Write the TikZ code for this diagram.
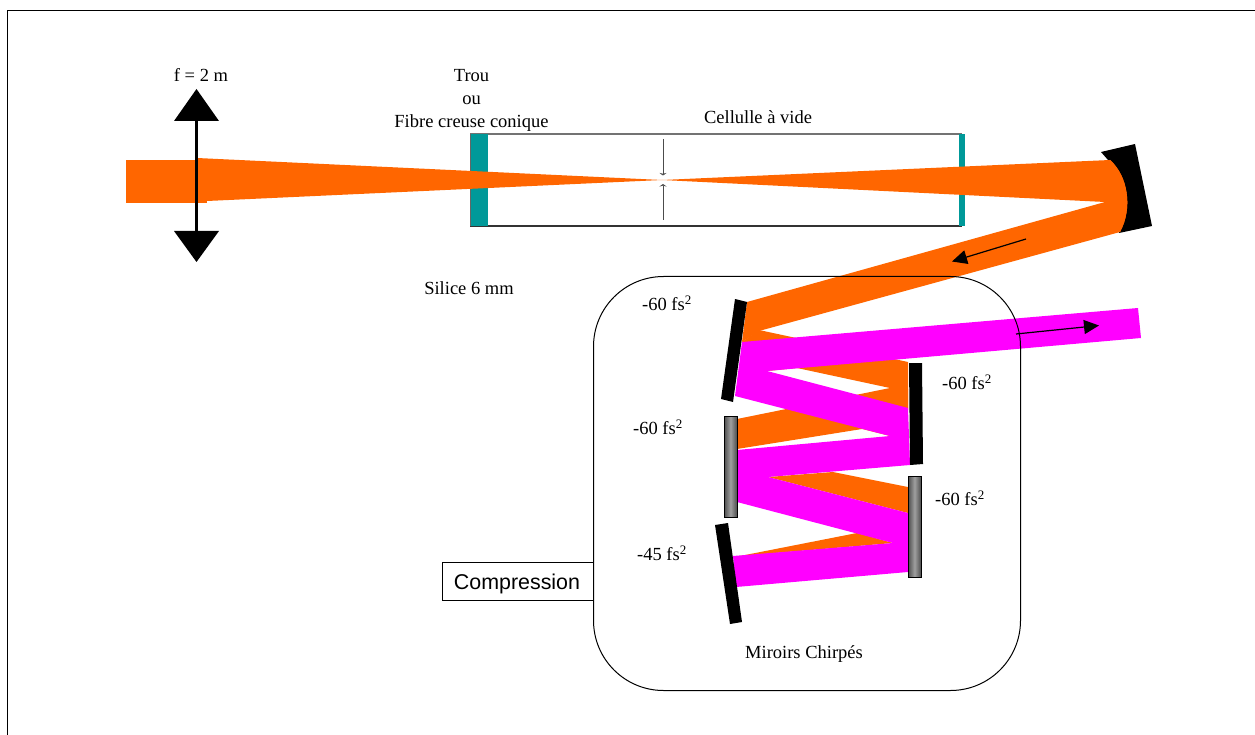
\documentclass[tikz,border=0pt]{standalone}
\usepackage{fontspec}
\setmainfont{Liberation Serif}
\newfontfamily\arialf{Liberation Sans}
\usetikzlibrary{arrows.meta}
\definecolor{beamo}{HTML}{FF6600}
\definecolor{beamm}{HTML}{FF00FF}
\definecolor{teal}{HTML}{009999}
\tikzset{
  x=1pt,y=-1pt,
  orangebeam/.style={fill=beamo,draw=none},
  magentabeam/.style={fill=beamm,draw=none},
  blackmirror/.style={fill=black,draw=none},
  greymirror/.style={left color=gray!60!black,right color=gray!60!black,middle color=gray!75,draw=black,line width=.9pt},
  window/.style={fill=teal,draw=none},
  lbl/.style={font=\fontsize{18.5}{23}\selectfont,inner sep=0pt,align=center},
  dirarrow/.style={line width=1.2pt,-{Triangle[length=15pt,width=14pt]}},
  tinyarrow/.style={line width=1pt,draw=black!70,-{Stealth[length=2.5pt,width=7pt]}},
}
\begin{document}
\begin{tikzpicture}
\useasboundingbox (0,0) rectangle (1255,735);
% page frame
\draw[line width=1pt] (7,735) -- (7,10.5) -- (1255,10.5);
% cell
\draw[draw=black!55,line width=1.1pt] (470,134) -- (962,134);
\draw[draw=black!80,line width=1.1pt] (470,226) -- (962,226);
\fill[window] (470,134) rectangle (488,226);
\fill[window] (959,134) rectangle (965,226);
\draw[draw=black!60,line width=1pt] (470,134) -- (470,226);
% curved mirror
\fill[blackmirror] (1101,152) -- (1135,144) -- (1152,226) -- (1119,233)
  -- (1118,222) .. controls (1122,200) and (1120,176) .. (1108,160) -- cycle;
% orange beams
\fill[orangebeam] (126,160) rectangle (207,203);
\fill[orangebeam] (197,158) -- (662,180) -- (207,201) -- cycle;
\fill[orangebeam] (662,180) -- (1110,160) .. controls (1128,176) and (1133,208) .. (1120,232) -- (1105,202) -- cycle;
\fill[orangebeam] (1110,160) .. controls (1128,176) and (1133,208) .. (1120,232) -- (759,331) -- (742,342) -- (747,302) -- (1105,202) -- cycle;
\fill[orangebeam] (742,342) -- (759,330) -- (908,362) -- (908,410) -- (890,388) -- (797,368) -- (767,371) -- cycle;
\fill[orangebeam] (737,419) -- (890,388) -- (908,389) -- (908,408) -- (890,436) -- (862,429) -- (737,449) -- cycle;
\fill[orangebeam] (768,477) -- (833,472) -- (908,487) -- (908,513) -- cycle;
\fill[orangebeam] (740,556) -- (857,533) -- (893,543) -- cycle;
% magenta beams
\fill[magentabeam] (742,342) -- (1138,308) -- (1141,338) -- (767,371) -- (908,408) -- (910,465)
  -- (768,477) -- (908,513) -- (908,572) -- (736,587) -- (733,556) -- (893,543)
  -- (737,502) -- (737,450) -- (890,436) -- (735,396) -- cycle;
% mirrors
\fill[blackmirror] (735,299) -- (747,302) -- (733,402) -- (721,399) -- cycle;
\fill[blackmirror] (909,363) -- (922,363) -- (923,464) -- (910,465) -- cycle;
\fill[blackmirror] (715,525) -- (728,523) -- (742,622) -- (730,624) -- cycle;
\path[greymirror] (724,416) rectangle (737,517);
\path[greymirror] (908,476) rectangle (921,577);
% lens
\fill[black] (196.5,89) -- (219,121) -- (174,121) -- cycle;
\fill[black] (196.5,262) -- (219,231) -- (174,231) -- cycle;
\draw[line width=3.4pt] (196.5,120) -- (196.5,232);
% waist marks
\coordinate (wt) at (663,139); \coordinate (wu) at (663,175.5);
\coordinate (wb) at (663,220); \coordinate (wc) at (663,184);
\draw[tinyarrow] (wt) -- (wu);
\draw[tinyarrow] (wb) -- (wc);
% compressor outline
\node[draw,line width=1pt,rounded corners=70pt,minimum width=427pt,minimum height=414pt,inner sep=0pt,anchor=north west] (comp) at (593,276) {};
% direction arrows
\coordinate (a1) at (1026,239); \coordinate (a2) at (952,261.5);
\coordinate (b1) at (1016,334); \coordinate (b2) at (1099,325.5);
\draw[dirarrow] (a1) -- (a2);
\draw[dirarrow] (b1) -- (b2);
% compression box
\node[draw,line width=1pt,minimum width=151pt,minimum height=38pt,inner sep=0pt,anchor=north west] (cbox) at (442,562) {};
\node[font={\arialf\fontsize{21.4}{24}\selectfont},inner sep=0pt] (ctxt) at (517,584) {Compression};
% labels
\node[lbl] (f) at (201,75) {f = 2 m};
\node[lbl] (t) at (471.5,100) {Trou\\ou\\Fibre creuse conique};
\node[lbl] (c) at (758,117) {Cellulle à vide};
\node[lbl] (s) at (469,288) {Silice 6 mm};
\node[lbl] (m) at (804,654) {Miroirs Chirpés};
\node[lbl] (d1) at (667,303) {-60 fs\textsuperscript{2}};
\node[lbl] (d2) at (967,382) {-60 fs\textsuperscript{2}};
\node[lbl] (d3) at (658,427) {-60 fs\textsuperscript{2}};
\node[lbl] (d4) at (960,498) {-60 fs\textsuperscript{2}};
\node[lbl] (d5) at (662,553) {-45 fs\textsuperscript{2}};
\end{tikzpicture}
\end{document}
